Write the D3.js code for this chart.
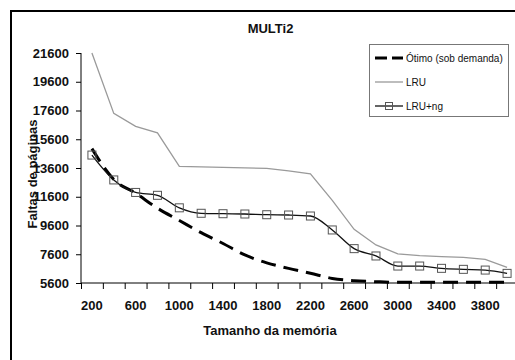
<!DOCTYPE html>
<html>
<head>
<meta charset="utf-8">
<script src="https://cdn.jsdelivr.net/npm/d3@7"></script>
<style>
  html, body { margin: 0; padding: 0; background: #fff; }
  svg { display: block; font-family: "Liberation Sans", Arial, sans-serif; }
</style>
</head>
<body>
<svg id="chart" width="515" height="360"></svg>
<script>
// ---- data ----
const categories = [200, 400, 600, 800, 1000, 1200, 1400, 1600, 1800, 2000,
                    2200, 2400, 2600, 2800, 3000, 3200, 3400, 3600, 3800, 4000];
const otimo = [14950, 12800, 11850, 10800, 9950, 9100, 8350, 7550, 7000, 6620,
               6280, 5920, 5760, 5690, 5650, 5650, 5650, 5650, 5650, 5650];
const lru = [21600, 17400, 16500, 16050, 13720, 13680, 13640, 13610, 13580, 13400,
             13200, 11350, 9330, 8250, 7620, 7500, 7440, 7380, 7250, 6680];
const lruNg = [14500, 12770, 11900, 11700, 10830, 10450, 10420, 10400, 10350, 10330,
               10260, 9290, 7990, 7480, 6780, 6780, 6620, 6550, 6500, 6270];
const yTicks = [5600, 7600, 9600, 11600, 13600, 15600, 17600, 19600, 21600];
const xLabels = [200, 600, 1000, 1400, 1800, 2200, 2600, 3000, 3400, 3800];
const seriesNames = ["Ótimo (sob demanda)", "LRU", "LRU+ng"];
const chartTitle = "MULTi2";
const xTitle = "Tamanho da memória";
const yTitle = "Faltas de páginas";

(function () {
// ---- layout ----
const svg = d3.select("#chart");
const pl = 81, pr = 518, pt = 53, pb = 283;

// frame
svg.append("rect").attr("x", 11).attr("y", 11).attr("width", 700).attr("height", 700)
  .attr("fill", "#fff").attr("stroke", "#000").attr("stroke-width", 2);

const x = d3.scaleBand().domain(categories).range([pl, pr]).padding(0);
const y = d3.scaleLinear().domain([5600, 21600]).range([pb, pt]);
const cx = d => x(d) + x.bandwidth() / 2;

// y axis
const yAxis = svg.append("g").attr("transform", `translate(${pl},0)`)
  .call(d3.axisLeft(y).tickValues(yTicks).tickSize(5).tickPadding(7).tickFormat(d3.format("d")));
yAxis.select(".domain").attr("stroke", "#000").attr("d", `M0,${pt}V${pb}`);
yAxis.selectAll(".tick line").attr("stroke", "#000");
yAxis.selectAll("text").attr("font-size", 13).attr("font-weight", "bold")
  .attr("fill", "#111").attr("font-family", "Liberation Sans, Arial, sans-serif");

// x axis: ticks at category boundaries
const xg = svg.append("g");
xg.append("line").attr("x1", pl).attr("x2", pr).attr("y1", pb).attr("y2", pb)
  .attr("stroke", "#000").attr("stroke-width", 1);
xg.selectAll("line.tk").data(categories).enter().append("line").attr("class", "tk")
  .attr("x1", d => x(d) + 0.5).attr("x2", d => x(d) + 0.5)
  .attr("y1", pb).attr("y2", pb + 6).attr("stroke", "#000");
xg.selectAll("text").data(xLabels).enter().append("text")
  .attr("x", d => cx(d)).attr("y", 310).attr("text-anchor", "middle")
  .attr("font-size", 13).attr("font-weight", "bold").attr("fill", "#111")
  .text(d => d);

// titles
svg.append("text").attr("x", 270.5).attr("y", 32.5).attr("text-anchor", "middle")
  .attr("font-size", 13).attr("font-weight", "bold").attr("fill", "#111").text(chartTitle);
svg.append("text").attr("x", 270).attr("y", 335).attr("text-anchor", "middle")
  .attr("font-size", 13).attr("font-weight", "bold").attr("fill", "#111").text(xTitle);
svg.append("text").attr("transform", "translate(37,174) rotate(-90)").attr("text-anchor", "middle")
  .attr("font-size", 13).attr("font-weight", "bold").attr("fill", "#111").text(yTitle);

// lines
const lineSmooth = d3.line().x((d, i) => cx(categories[i])).y(d => y(d)).curve(d3.curveMonotoneX);
const lineStraight = d3.line().x((d, i) => cx(categories[i])).y(d => y(d));

svg.append("path").datum(lru).attr("d", lineStraight)
  .attr("fill", "none").attr("stroke", "#9a9a9a").attr("stroke-width", 1.3);
svg.append("path").datum(otimo).attr("d", lineSmooth)
  .attr("fill", "none").attr("stroke", "#000").attr("stroke-width", 3)
  .attr("stroke-dasharray", "15,8");
svg.append("path").datum(lruNg).attr("d", lineSmooth)
  .attr("fill", "none").attr("stroke", "#111").attr("stroke-width", 1.3);
svg.selectAll("rect.mk").data(lruNg).enter().append("rect").attr("class", "mk")
  .attr("x", (d, i) => cx(categories[i]) - 4).attr("y", d => y(d) - 4)
  .attr("width", 8).attr("height", 8)
  .attr("fill", "none").attr("stroke", "#555").attr("stroke-width", 1);

// legend
const lg = svg.append("g");
lg.append("rect").attr("x", 369.5).attr("y", 44.5).attr("width", 139).attr("height", 72)
  .attr("fill", "#fff").attr("stroke", "#777").attr("stroke-width", 1);
const ly = [58, 82, 106];
lg.append("line").attr("x1", 375).attr("x2", 403).attr("y1", ly[0]).attr("y2", ly[0])
  .attr("stroke", "#000").attr("stroke-width", 3).attr("stroke-dasharray", "12,5");
lg.append("line").attr("x1", 375).attr("x2", 403).attr("y1", ly[1]).attr("y2", ly[1])
  .attr("stroke", "#9a9a9a").attr("stroke-width", 1.3);
lg.append("line").attr("x1", 375).attr("x2", 403).attr("y1", ly[2]).attr("y2", ly[2])
  .attr("stroke", "#111").attr("stroke-width", 1.3);
lg.append("rect").attr("x", 385.5).attr("y", ly[2] - 3.5).attr("width", 7).attr("height", 7)
  .attr("fill", "none").attr("stroke", "#555");
lg.selectAll("text.lt").data(seriesNames).enter().append("text").attr("class", "lt")
  .attr("x", 406).attr("y", (d, i) => ly[i] + 3.6)
  .attr("font-size", 10).attr("fill", "#111").text(d => d);
})();
</script>
</body>
</html>
